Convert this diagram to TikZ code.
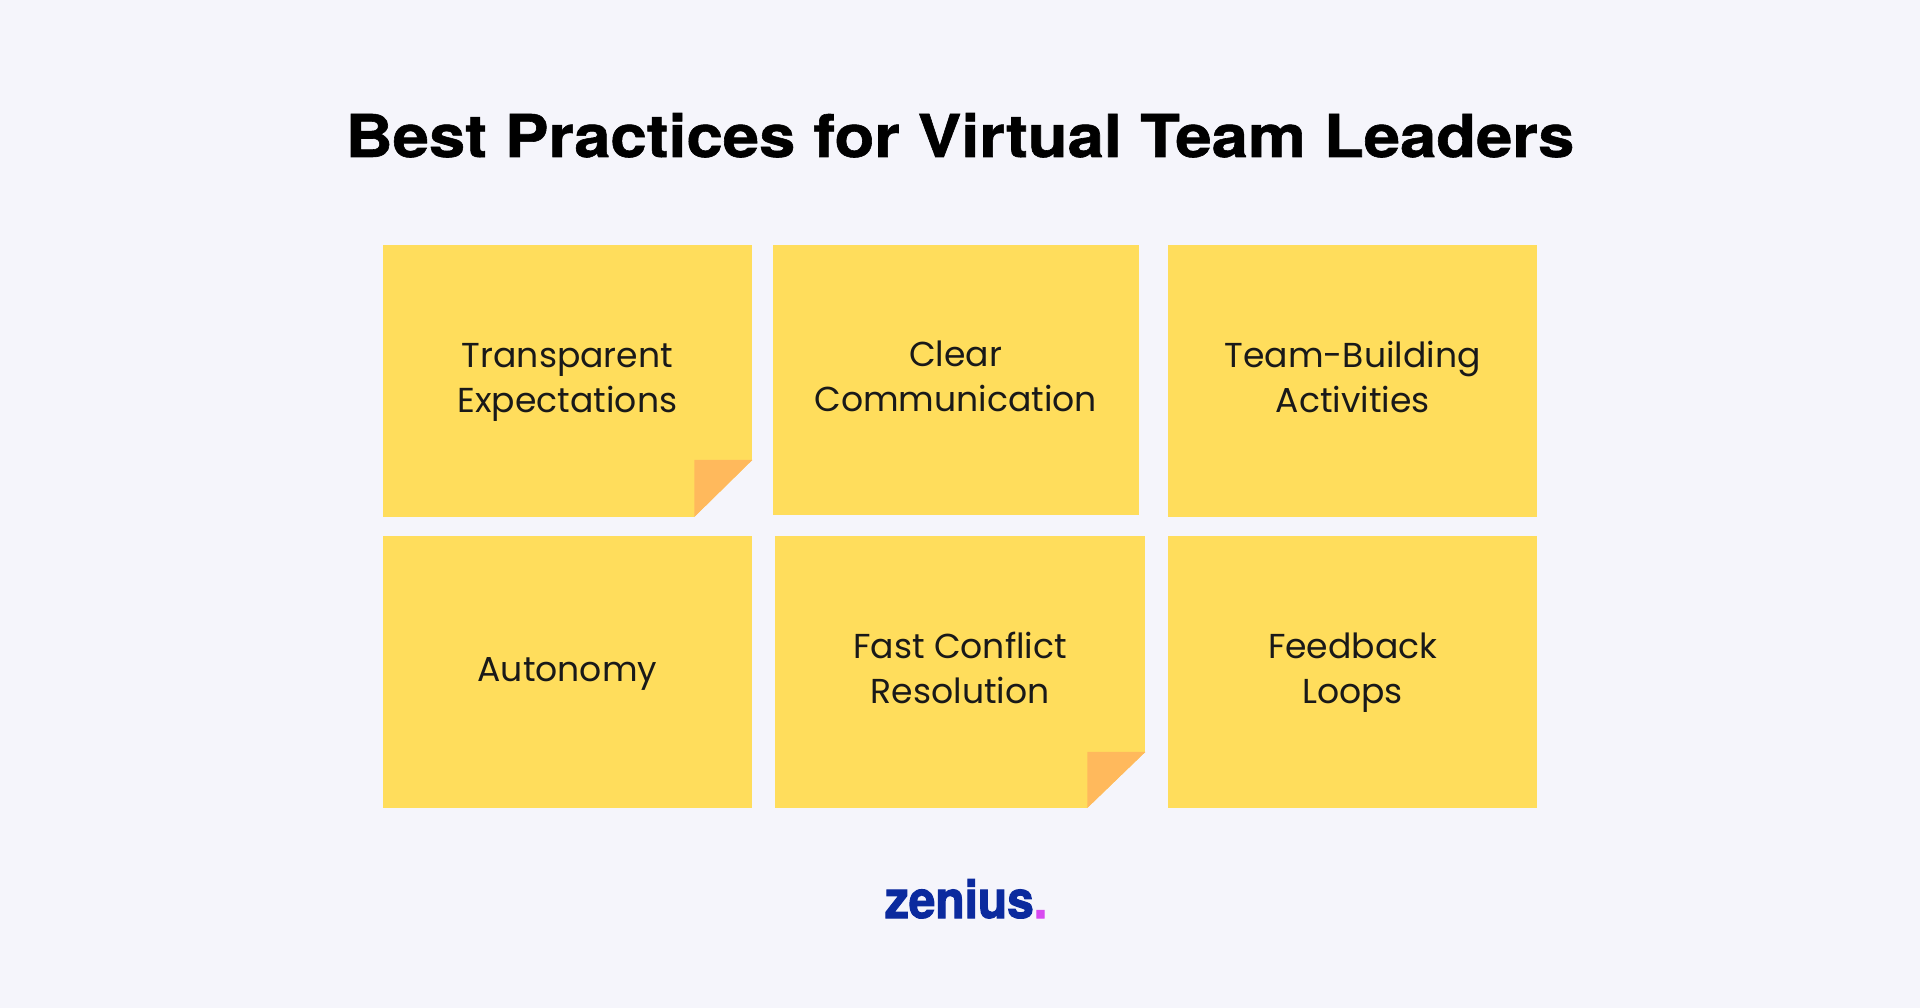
\documentclass[tikz,border=0pt]{standalone}
\usepackage{fontspec}
\setmainfont{Poppins}
\newfontfamily\titlefont[FakeStretch=1.105,BoldFeatures={FakeBold=1.0}]{TeX Gyre Heros}
\newfontfamily\logofont[FakeStretch=0.92,BoldFeatures={FakeBold=2}]{TeX Gyre Heros}
\definecolor{pagebg}{HTML}{F5F5FB}
\definecolor{noteyellow}{HTML}{FFDD5C}
\definecolor{foldorange}{HTML}{FFB95C}
\definecolor{logoblue}{HTML}{0B2A9E}
\definecolor{logopink}{HTML}{D84AF0}
\tikzset{
  note/.style={fill=noteyellow,inner sep=0pt,align=center,anchor=north west,text=black!90,
    font=\fontsize{34.6}{44.7}\selectfont,text height=78pt,text depth=15pt},
  oneline/.style={text height=34pt,text depth=14pt},
  fold/.style={fill=foldorange},
  cutoff/.style={fill=pagebg}
}
\begin{document}
\begin{tikzpicture}[x=1pt,y=-1pt]
  \fill[pagebg] (0,0) rectangle (1920,1008);
  \useasboundingbox (0,0) rectangle (1920,1008);

  \node[font=\titlefont\bfseries\fontsize{59}{60}\selectfont,inner sep=0pt,anchor=base] (title) at (960,157) {Best Practices for Virtual Team Leaders};

  \node[note,minimum width=369.5pt,minimum height=271.5pt] (transparent) at (382.5,245) {Transparent\\Expectations};
  \node[note,minimum width=366pt,minimum height=269.5pt] (clear) at (772.5,245) {Clear\\Communication};
  \node[note,minimum width=369pt,minimum height=271.5pt] (teambuilding) at (1168,245) {Team-Building\\Activities};
  \node[note,oneline,minimum width=369.5pt,minimum height=272pt] (autonomy) at (382.5,535.5) {Autonomy};
  \node[note,minimum width=370pt,minimum height=272pt] (conflict) at (775,535.5) {Fast Conflict\\Resolution};
  \node[note,minimum width=369pt,minimum height=272pt] (feedback) at (1168,535.5) {Feedback\\Loops};

  % turned corners
  \fill[cutoff] (transparent.south east) ++(0,-57) -- ++(-58,57) -- (transparent.south east) -- cycle;
  \fill[fold] (transparent.south east) ++(0,-57) -- ++(-58,0) -- ++(0,57) -- cycle;
  \fill[cutoff] (conflict.south east) ++(0,-56) -- ++(-58,56) -- (conflict.south east) -- cycle;
  \fill[fold] (conflict.south east) ++(0,-56) -- ++(-58,0) -- ++(0,56) -- cycle;

  \node[font=\logofont\bfseries\fontsize{52}{53}\selectfont,text=logoblue,inner sep=0pt,anchor=base] (logo) at (966,918) {zenius\textcolor{logopink}{.}};
\end{tikzpicture}
\end{document}
